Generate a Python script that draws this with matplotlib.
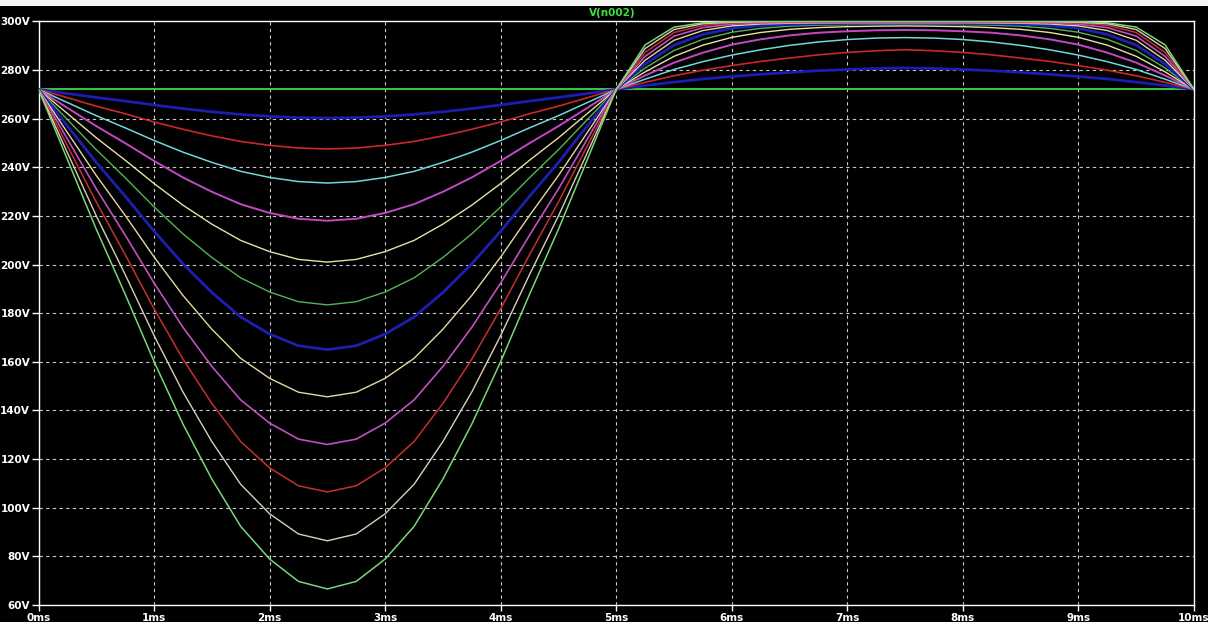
import numpy as np
import matplotlib
matplotlib.use('Agg')
import matplotlib.pyplot as plt
from matplotlib.patches import Rectangle

outputFile = 'out.png'

# time axis of the transient run (ms), one sample every 0.25 ms
time_ms = np.arange(41) * 0.25

# stepped traces of V(n002) (volts)
v_step0 = [272.0] * 41
v_step1 = [272.0, 270.3, 268.7, 267.2, 265.6, 264.1, 262.8, 261.7, 260.9, 260.4, 260.2, 260.4, 260.9, 261.7, 262.8, 264.1, 265.6, 267.2, 268.7, 270.3,
           272.0, 273.6, 275.0, 276.3, 277.3, 278.2, 279.0, 279.7, 280.2, 280.6, 280.8, 280.6, 280.2, 279.7, 279.0, 278.2, 277.3, 276.3, 275.0, 273.6, 272.0]
v_step2 = [272.0, 268.6, 265.1, 262.0, 258.6, 255.6, 252.9, 250.6, 249.0, 247.9, 247.5, 247.9, 249.0, 250.6, 252.9, 255.6, 258.6, 262.0, 265.1, 268.6,
           272.0, 274.9, 277.6, 279.9, 281.8, 283.5, 284.9, 286.2, 287.2, 287.9, 288.3, 287.9, 287.2, 286.2, 284.9, 283.5, 281.8, 279.9, 277.6, 274.9, 272.0]
v_step3 = [272.0, 266.6, 261.2, 256.2, 251.0, 246.2, 242.0, 238.3, 235.8, 234.1, 233.5, 234.1, 235.8, 238.3, 242.0, 246.2, 251.0, 256.2, 261.2, 266.6,
           272.0, 276.2, 280.2, 283.4, 286.1, 288.3, 290.1, 291.5, 292.5, 293.1, 293.3, 293.1, 292.5, 291.5, 290.1, 288.3, 286.1, 283.4, 280.2, 276.2, 272.0]
v_step4 = [272.0, 264.4, 256.9, 249.9, 242.6, 235.8, 229.9, 224.8, 221.2, 218.8, 218.0, 218.8, 221.2, 224.8, 229.9, 235.8, 242.6, 249.9, 256.9, 264.4,
           272.0, 277.7, 283.0, 287.1, 290.4, 292.6, 294.2, 295.3, 295.9, 296.3, 296.4, 296.3, 295.9, 295.3, 294.2, 292.6, 290.4, 287.1, 283.0, 277.7, 272.0]
v_step5 = [272.0, 262.1, 252.1, 242.9, 233.3, 224.4, 216.6, 209.9, 205.3, 202.1, 201.0, 202.1, 205.3, 209.9, 216.6, 224.4, 233.3, 242.9, 252.1, 262.1,
           272.0, 279.2, 285.6, 290.2, 293.4, 295.4, 296.7, 297.4, 297.8, 298.0, 298.1, 298.0, 297.8, 297.4, 296.7, 295.4, 293.4, 290.2, 285.6, 279.2, 272.0]
v_step6 = [272.0, 259.6, 247.2, 235.7, 223.7, 212.6, 202.9, 194.5, 188.7, 184.7, 183.4, 184.7, 188.7, 194.5, 202.9, 212.6, 223.7, 235.7, 247.2, 259.6,
           272.0, 280.8, 288.0, 292.6, 295.5, 297.1, 298.0, 298.4, 298.6, 298.8, 298.8, 298.8, 298.6, 298.4, 298.0, 297.1, 295.5, 292.6, 288.0, 280.8, 272.0]
v_step7 = [272.0, 257.0, 242.0, 228.1, 213.7, 200.3, 188.5, 178.4, 171.4, 166.6, 165.0, 166.6, 171.4, 178.4, 188.5, 200.3, 213.7, 228.1, 242.0, 257.0,
           272.0, 282.4, 290.2, 294.6, 297.1, 298.2, 298.8, 299.0, 299.1, 299.2, 299.2, 299.2, 299.1, 299.0, 298.8, 298.2, 297.1, 294.6, 290.2, 282.4, 272.0]
v_step8 = [272.0, 254.3, 236.6, 220.2, 203.1, 187.3, 173.4, 161.4, 153.2, 147.5, 145.6, 147.5, 153.2, 161.4, 173.4, 187.3, 203.1, 220.2, 236.6, 254.3,
           272.0, 284.0, 292.2, 296.2, 298.1, 298.9, 299.2, 299.3, 299.4, 299.4, 299.4, 299.4, 299.4, 299.3, 299.2, 298.9, 298.1, 296.2, 292.2, 284.0, 272.0]
v_step9 = [272.0, 251.6, 231.1, 212.1, 192.4, 174.2, 158.1, 144.3, 134.8, 128.2, 126.0, 128.2, 134.8, 144.3, 158.1, 174.2, 192.4, 212.1, 231.1, 251.6,
           272.0, 285.6, 293.9, 297.4, 298.8, 299.3, 299.5, 299.5, 299.6, 299.6, 299.6, 299.6, 299.6, 299.5, 299.5, 299.3, 298.8, 297.4, 293.9, 285.6, 272.0]
v_step10 = [272.0, 248.8, 225.7, 204.1, 181.8, 161.1, 142.9, 127.2, 116.4, 109.0, 106.5, 109.0, 116.4, 127.2, 142.9, 161.1, 181.8, 204.1, 225.7, 248.8,
            272.0, 287.2, 295.4, 298.3, 299.3, 299.6, 299.7, 299.7, 299.7, 299.7, 299.7, 299.7, 299.7, 299.7, 299.7, 299.6, 299.3, 298.3, 295.4, 287.2, 272.0]
v_step11 = [272.0, 246.0, 220.0, 195.9, 170.8, 147.6, 127.2, 109.6, 97.5, 89.2, 86.4, 89.2, 97.5, 109.6, 127.2, 147.6, 170.8, 195.9, 220.0, 246.0,
            272.0, 288.8, 296.6, 299.0, 299.6, 299.8, 299.9, 299.9, 299.9, 299.9, 299.9, 299.9, 299.9, 299.9, 299.9, 299.8, 299.6, 299.0, 296.6, 288.8, 272.0]
v_step12 = [272.0, 243.2, 214.5, 187.8, 160.1, 134.4, 111.8, 92.3, 78.9, 69.7, 66.6, 69.7, 78.9, 92.3, 111.8, 134.4, 160.1, 187.8, 214.5, 243.2,
            272.0, 290.3, 297.6, 299.4, 299.9, 300.0, 300.0, 300.0, 300.0, 300.0, 300.0, 300.0, 300.0, 300.0, 300.0, 300.0, 299.9, 299.4, 297.6, 290.3, 272.0]

steps = [v_step0, v_step1, v_step2, v_step3, v_step4, v_step5, v_step6,
         v_step7, v_step8, v_step9, v_step10, v_step11, v_step12]
colours = ['#40c040', '#1c1cb4', '#cc2828', '#70d8d8', '#c448c4', '#e8e0a4', '#54b454',
           '#1e1eb0', '#e4d8a4', '#c050c4', '#c43030', '#d8d0b8', '#78d878']
widths = [1.5, 2.0, 1.2, 1.1, 1.4, 1.0, 1.0, 2.0, 1.0, 1.2, 1.1, 1.0, 1.1]

y_ticks = list(range(60, 301, 20))
x_ticks = list(range(0, 11))

label_font = dict(family='DejaVu Sans', size=7.5, weight='bold')

W, H = 1208, 622
fig = plt.figure(figsize=(W / 100, H / 100), dpi=100, facecolor='black')
# thin white strip at the very top of the screenshot
fig.patches.append(Rectangle((0, 1 - 6 / H), 1, 6 / H, transform=fig.transFigure,
                             facecolor='#f4f4f4', edgecolor='none'))

left, right, top, bottom = 38.5, 1194, 21.3, 605
ax = fig.add_axes([left / W, 1 - bottom / H, (right - left) / W, (bottom - top) / H])
ax.set_facecolor('black')

for vals, c, lw in zip(steps, colours, widths):
    ax.plot(time_ms, vals, color=c, linewidth=lw, zorder=3)

ax.set_xlim(0, 10)
ax.set_ylim(60, 300)
ax.set_xticks(x_ticks)
ax.set_yticks(y_ticks)
ax.set_xticklabels(['{}ms'.format(t) for t in x_ticks], **label_font)
ax.set_yticklabels(['{}V'.format(v) for v in y_ticks], **label_font)
ax.grid(True, color='#c8c8c8', linestyle=(0, (3, 3)), linewidth=0.8, zorder=1)

for sp in ax.spines.values():
    sp.set_color('white')
    sp.set_linewidth(1.0)

ax.tick_params(axis='y', colors='white', length=5, width=1, pad=1)
ax.tick_params(axis='x', colors='white', length=4, width=1, pad=1.5)

fig.text(612 / W, 1 - 13 / H, 'V(n002)', color='#3ce03c', ha='center', va='center', **label_font)

fig.savefig(outputFile, dpi=100, facecolor='black')
